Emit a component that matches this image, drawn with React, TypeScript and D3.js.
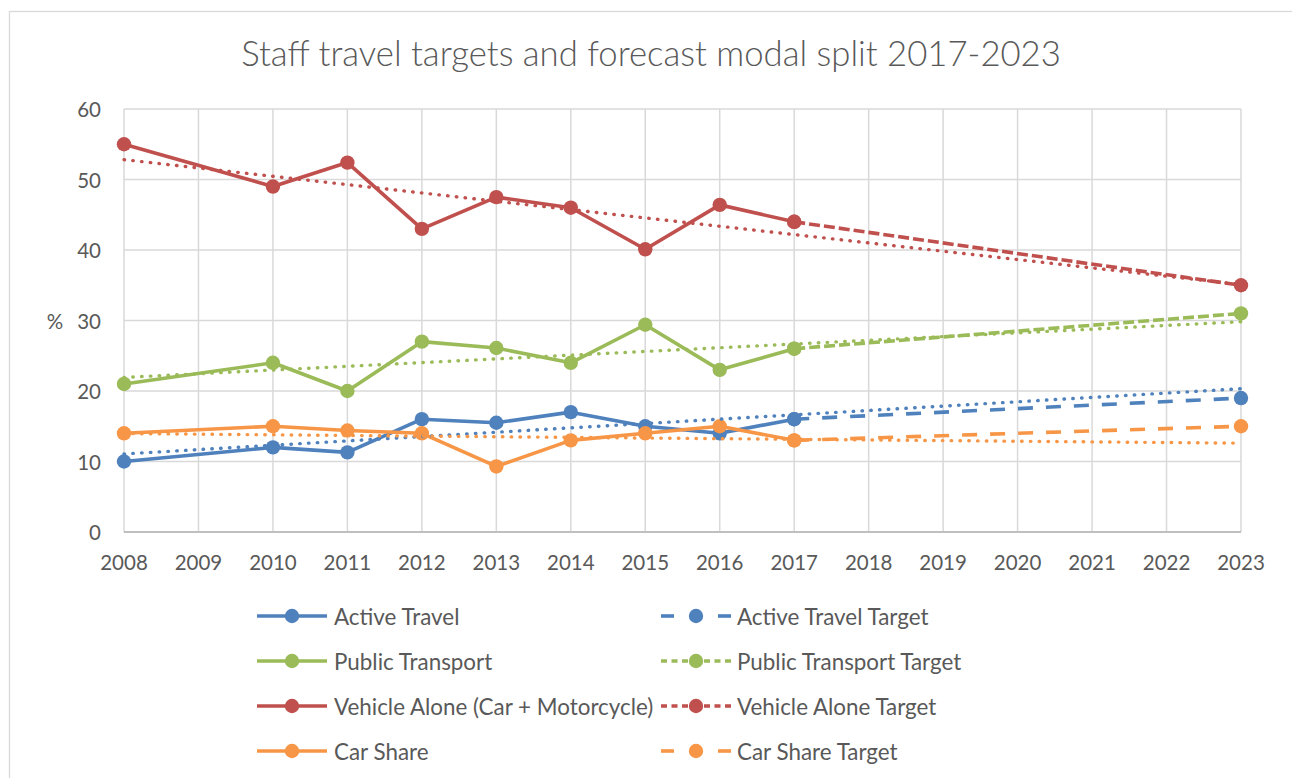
import React, { useEffect } from 'react';
import * as d3 from 'd3';

const categories = ['2008','2009','2010','2011','2012','2013','2014','2015','2016','2017','2018','2019','2020','2021','2022','2023'];
const actualYears = ['2008','2010','2011','2012','2013','2014','2015','2016','2017'];
const activeTravel = [10, 12, 11.3, 16, 15.5, 17, 15, 14, 16];
const publicTransport = [21, 24, 20, 27, 26.1, 24, 29.4, 23, 26];
const vehicleAlone = [55, 49, 52.4, 43, 47.5, 46, 40.1, 46.4, 44];
const carShare = [14, 15, 14.4, 14, 9.3, 13, 14, 15, 13];
const targetYears = ['2017','2023'];
const activeTravelTarget = [16, 19];
const publicTransportTarget = [26, 31];
const vehicleAloneTarget = [44, 35];
const carShareTarget = [13, 15];
const yTicks = [0, 10, 20, 30, 40, 50, 60];

const FONT = 'Lato, "Open Sans", sans-serif';
const TXT = '#595959';

type Series = { name: string; targetName: string; color: string; actual: number[]; target: number[]; targetDash: string; legendDash: string };
const seriesList: Series[] = [
  { name: 'Active Travel', targetName: 'Active Travel Target', color: '#4F81BD', actual: activeTravel, target: activeTravelTarget, targetDash: '15 13', legendDash: '13 40' },
  { name: 'Public Transport', targetName: 'Public Transport Target', color: '#9BBB59', actual: publicTransport, target: publicTransportTarget, targetDash: '11 4', legendDash: '6 4.5' },
  { name: 'Vehicle Alone (Car + Motorcycle)', targetName: 'Vehicle Alone Target', color: '#C0504D', actual: vehicleAlone, target: vehicleAloneTarget, targetDash: '11 4', legendDash: '6 4.5' },
  { name: 'Car Share', targetName: 'Car Share Target', color: '#F79646', actual: carShare, target: carShareTarget, targetDash: '15 13', legendDash: '13 40' },
];

const L = 124, R = 1241, T = 109, B = 532;

function linReg(xs: number[], ys: number[]) {
  const mx = d3.mean(xs) as number, my = d3.mean(ys) as number;
  let sxy = 0, sxx = 0;
  xs.forEach((xv, i) => { sxy += (xv - mx) * (ys[i] - my); sxx += (xv - mx) * (xv - mx); });
  const b = sxy / sxx;
  return (xv: number) => my + b * (xv - mx);
}

export default function App() {
  useEffect(() => { document.body.style.margin = '0'; document.body.style.overflow = 'hidden'; }, []);
  const x = d3.scalePoint<string>().domain(categories).range([L, R]).padding(0);
  const y = d3.scaleLinear().domain([0, 60]).range([B, T]);
  const line = d3.line<[string, number]>().x(d => x(d[0]) as number).y(d => y(d[1]));
  const idxLine = d3.line<[number, number]>().x(d => (x(categories[0]) as number) + d[0] * x.step()).y(d => y(d[1]));

  const legendRows = [616, 661, 706, 751];
  const col1 = { x0: 257, x1: 327, mx: 292, tx: 334 };
  const col2 = { x0: 661, x1: 731, mx: 696, tx: 737 };

  return (
    <svg width={1292} height={778} style={{ position: 'absolute', left: 0, top: 0, background: '#fff' }}>
      <rect x={0} y={0} width={1292} height={778} fill="#fff" />
      <rect x={9.5} y={11.5} width={1300} height={800} fill="none" stroke="#d9d9d9" strokeWidth={1.3} />
      <text x={651} y={66} textAnchor="middle" fontFamily={FONT} fontWeight={300} fontSize={34.7} fill={TXT}>Staff travel targets and forecast modal split 2017-2023</text>
      {yTicks.map(t => (
        <line key={'h' + t} x1={L} x2={R} y1={y(t)} y2={y(t)} stroke={t === 0 ? '#bfbfbf' : '#d9d9d9'} strokeWidth={1.5} />
      ))}
      {categories.map(c => (
        <line key={'v' + c} x1={x(c)} x2={x(c)} y1={T} y2={B} stroke="#d9d9d9" strokeWidth={1.5} />
      ))}
      <line x1={L} x2={R} y1={B} y2={B} stroke="#bfbfbf" strokeWidth={1.8} />
      {yTicks.map(t => (
        <text key={'yt' + t} x={101} y={y(t)} dominantBaseline="central" textAnchor="end" fontFamily={FONT} fontSize={20.5} fill={TXT}>{t}</text>
      ))}
      <text x={55} y={y(30)} dominantBaseline="central" textAnchor="middle" fontFamily={FONT} fontSize={20.5} fill={TXT}>%</text>
      {categories.map(c => (
        <text key={'xt' + c} x={x(c)} y={562} dominantBaseline="central" textAnchor="middle" fontFamily={FONT} fontSize={20.5} fill={TXT}>{c}</text>
      ))}
      {seriesList.map(s => {
        const pts = actualYears.map((yr, i) => [yr, s.actual[i]] as [string, number]);
        const tpts = targetYears.map((yr, i) => [yr, s.target[i]] as [string, number]);
        return (
          <g key={s.name}>
            <path d={line(pts) as string} fill="none" stroke={s.color} strokeWidth={3.6} strokeLinejoin="round" />
            {pts.map(p => <circle key={p[0]} cx={x(p[0])} cy={y(p[1])} r={7.2} fill={s.color} />)}
            <path d={line(tpts) as string} fill="none" stroke={s.color} strokeWidth={3.6} strokeDasharray={s.targetDash} />
            {tpts.map(p => <circle key={'t' + p[0]} cx={x(p[0])} cy={y(p[1])} r={7.2} fill={s.color} />)}
          </g>
        );
      })}
      {seriesList.map(s => {
        const xs = actualYears.map(yr => categories.indexOf(yr));
        const f = linReg(xs, s.actual);
        const n = categories.length - 1;
        return <path key={'tr' + s.name} d={idxLine([[0, f(0)], [n, f(n)]]) as string} fill="none" stroke={s.color} strokeWidth={3.4} strokeDasharray="0.5 8.3" strokeLinecap="round" />;
      })}
      {seriesList.map((s, i) => {
        const ry = legendRows[i];
        return (
          <g key={'lg' + s.name}>
            <line x1={col1.x0} x2={col1.x1} y1={ry} y2={ry} stroke={s.color} strokeWidth={3.6} />
            <circle cx={col1.mx} cy={ry} r={7.2} fill={s.color} />
            <text x={col1.tx} y={ry} dominantBaseline="central" fontFamily={FONT} fontSize={22.4} fill={TXT}>{s.name}</text>
            <line x1={col2.x0} x2={col2.mx} y1={ry} y2={ry} stroke={s.color} strokeWidth={3.6} strokeDasharray={s.legendDash} />
            <line x1={col2.x1} x2={col2.mx} y1={ry} y2={ry} stroke={s.color} strokeWidth={3.6} strokeDasharray={s.legendDash} />
            <circle cx={col2.mx} cy={ry} r={7.2} fill={s.color} />
            <text x={col2.tx} y={ry} dominantBaseline="central" fontFamily={FONT} fontSize={22.4} fill={TXT}>{s.targetName}</text>
          </g>
        );
      })}
    </svg>
  );
}
